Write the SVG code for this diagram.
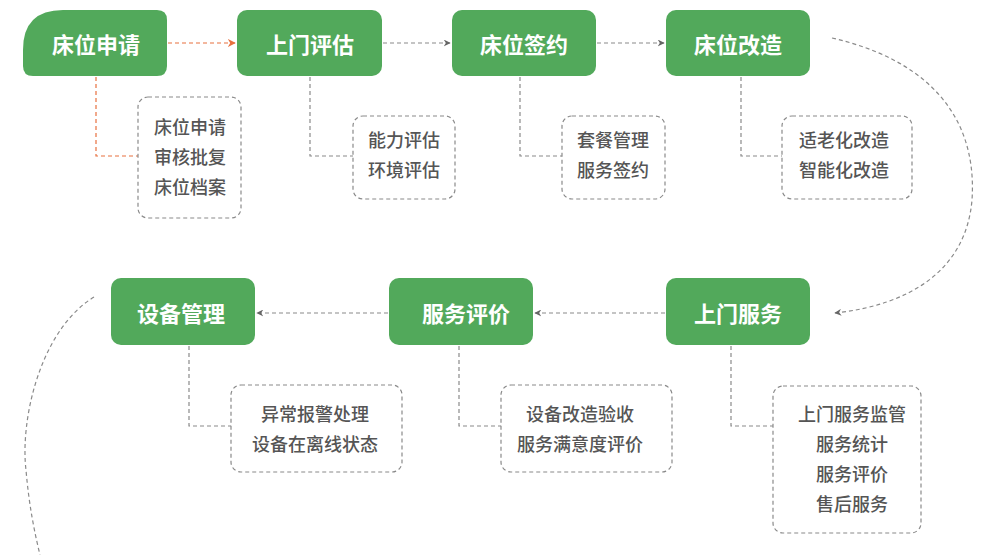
<svg xmlns="http://www.w3.org/2000/svg" width="991" height="555" viewBox="0 0 991 555">
<defs>
<style>
.node{fill:#52a95b;}
.title{font-family:"Noto Sans CJK SC","Noto Sans",sans-serif;font-size:22px;font-weight:bold;fill:#ffffff;text-anchor:middle;dominant-baseline:central;}
.box{fill:#ffffff;stroke:#8a8a8a;stroke-width:1.2;stroke-dasharray:4 3;}
.item{font-family:"Noto Sans CJK SC","Noto Sans",sans-serif;font-size:18px;font-weight:500;fill:#555555;text-anchor:middle;dominant-baseline:central;}
.link{fill:none;stroke:#8a8a8a;stroke-width:1.2;stroke-dasharray:4 3;}
.orange{stroke:#e8703f;}
</style>
<marker id="ag" viewBox="0 0 10 10" refX="9" refY="5" markerWidth="7" markerHeight="7" orient="auto" markerUnits="userSpaceOnUse"><path d="M0,0 L10,5 L0,10 L3,5 Z" fill="#666666"/></marker>
<marker id="ao" viewBox="0 0 10 10" refX="9" refY="5" markerWidth="8" markerHeight="8" orient="auto" markerUnits="userSpaceOnUse"><path d="M0,0 L10,5 L0,10 L3,5 Z" fill="#e8703f"/></marker>
</defs>
<rect x="0" y="0" width="991" height="555" fill="#ffffff"/>

<g id="connectors">
<line class="link orange" x1="168" y1="43" x2="235" y2="43" marker-end="url(#ao)"/>
<line class="link" x1="383" y1="43" x2="450" y2="43" marker-end="url(#ag)"/>
<line class="link" x1="597" y1="43" x2="664" y2="43" marker-end="url(#ag)"/>
<path class="link" d="M832,38 C920,58 978,110 972,200 C966,270 910,305 835,313" marker-end="url(#ag)"/>
<line class="link" x1="665" y1="313" x2="535" y2="313" marker-end="url(#ag)"/>
<line class="link" x1="388" y1="313" x2="257" y2="313" marker-end="url(#ag)"/>
<path class="link" d="M94,297 C40,330 20,420 26,470 C29,505 34,530 40,555"/>
<polyline class="link orange" points="96,77 96,156 138,156"/>
<polyline class="link" points="310,77 310,156 353,156"/>
<polyline class="link" points="520,77 520,156 562,156"/>
<polyline class="link" points="741,77 741,156 782,156"/>
<polyline class="link" points="189,346 189,426 231,426"/>
<polyline class="link" points="459,346 459,426 501,426"/>
<polyline class="link" points="731,346 731,426 773,426"/>
</g>

<g id="n1"><path class="node" d="M63,10 H157 Q167,10 167,20 V66 Q167,76 157,76 H33 Q23,76 23,66 V50 Q23,10 63,10 Z"/><text class="title" x="96" y="43">床位申请</text></g>
<g id="n2"><rect class="node" x="237" y="10" width="145" height="66" rx="10"/><text class="title" x="310" y="43">上门评估</text></g>
<g id="n3"><rect class="node" x="452" y="10" width="144" height="66" rx="10"/><text class="title" x="524" y="43">床位签约</text></g>
<g id="n4"><rect class="node" x="666" y="10" width="144" height="66" rx="10"/><text class="title" x="738" y="43">床位改造</text></g>
<g id="n5"><rect class="node" x="666" y="278" width="144" height="67" rx="10"/><text class="title" x="738" y="312">上门服务</text></g>
<g id="n6"><rect class="node" x="389" y="278" width="144" height="67" rx="10"/><text class="title" x="466" y="312">服务评价</text></g>
<g id="n7"><rect class="node" x="111" y="278" width="144" height="67" rx="10"/><text class="title" x="181" y="312">设备管理</text></g>

<g id="d1"><rect class="box" x="138" y="97" width="103" height="121" rx="10"/><text class="item" x="190" y="126">床位申请</text><text class="item" x="190" y="156">审核批复</text><text class="item" x="190" y="186">床位档案</text></g>
<g id="d2"><rect class="box" x="353" y="116" width="102" height="83" rx="10"/><text class="item" x="404" y="139">能力评估</text><text class="item" x="404" y="169">环境评估</text></g>
<g id="d3"><rect class="box" x="562" y="116" width="103" height="83" rx="10"/><text class="item" x="613" y="139">套餐管理</text><text class="item" x="613" y="169">服务签约</text></g>
<g id="d4"><rect class="box" x="782" y="116" width="130" height="83" rx="10"/><text class="item" x="844" y="139">适老化改造</text><text class="item" x="844" y="169">智能化改造</text></g>
<g id="d5"><rect class="box" x="231" y="385" width="171" height="87" rx="10"/><text class="item" x="315" y="413">异常报警处理</text><text class="item" x="315" y="443">设备在离线状态</text></g>
<g id="d6"><rect class="box" x="501" y="385" width="171" height="87" rx="10"/><text class="item" x="580" y="413">设备改造验收</text><text class="item" x="580" y="443">服务满意度评价</text></g>
<g id="d7"><rect class="box" x="773" y="386" width="148" height="147" rx="10"/><text class="item" x="852" y="413">上门服务监管</text><text class="item" x="852" y="443">服务统计</text><text class="item" x="852" y="473">服务评价</text><text class="item" x="852" y="503">售后服务</text></g>
</svg>
